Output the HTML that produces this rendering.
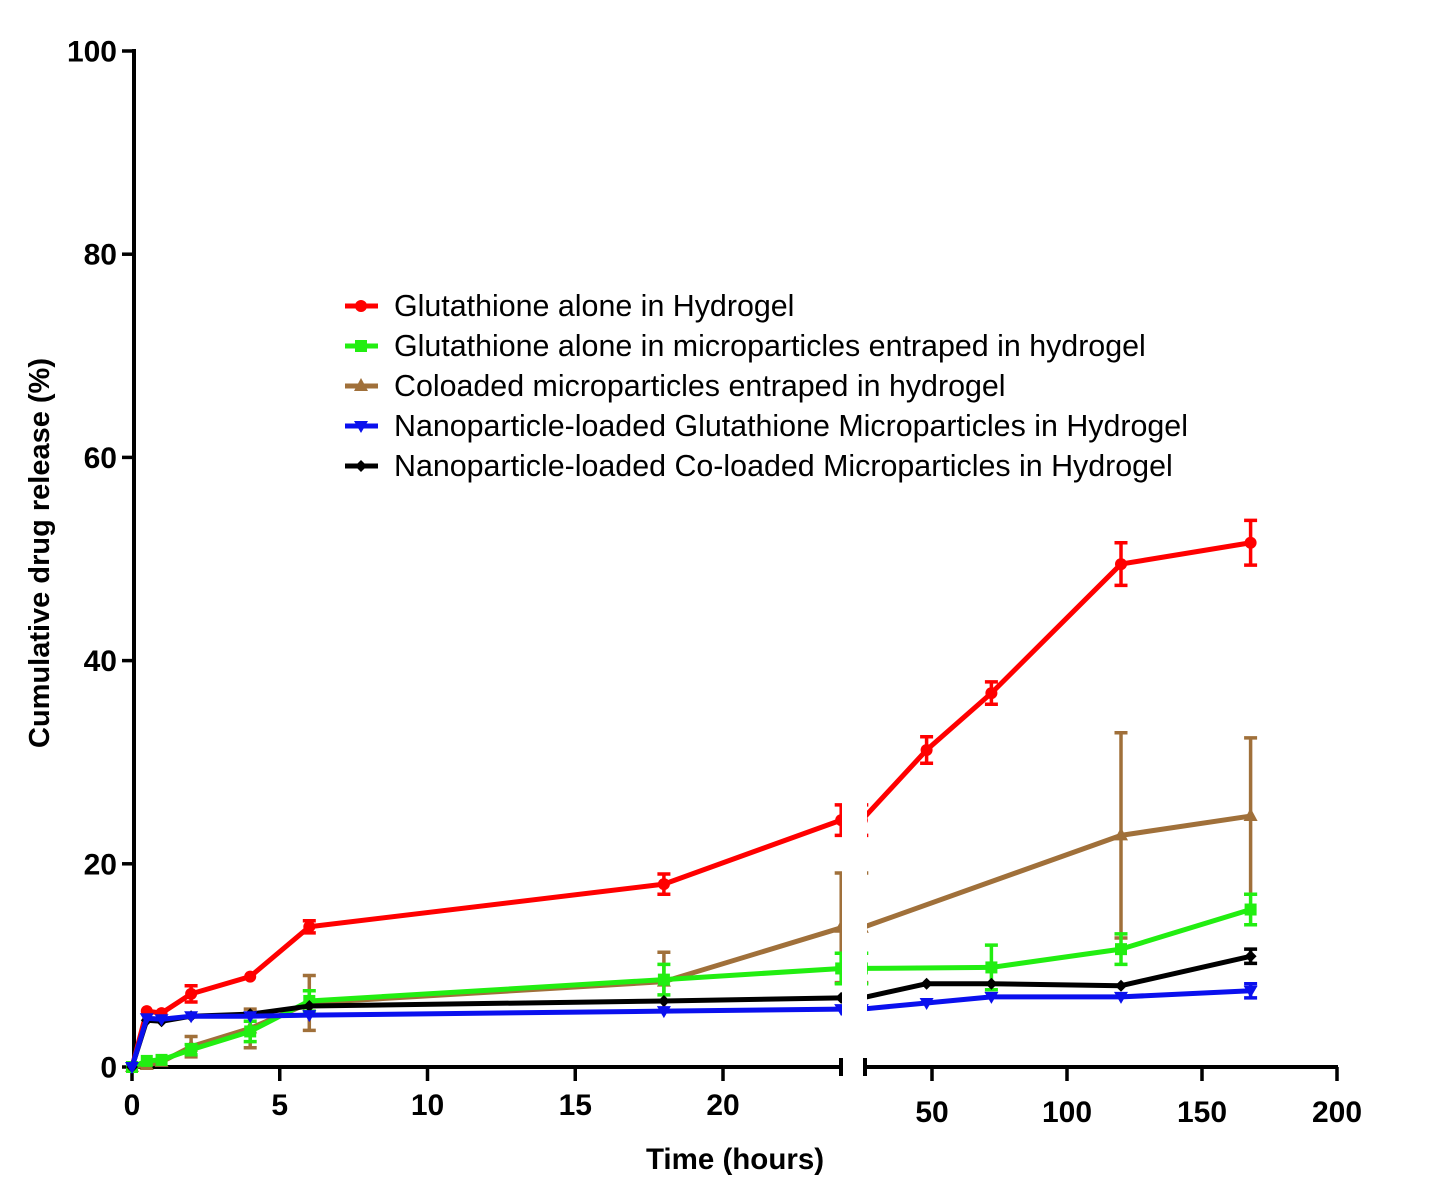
<!DOCTYPE html>
<html><head><meta charset="utf-8"><style>
body{margin:0;background:#fff;}
svg{display:block;font-family:"Liberation Sans",Arial,sans-serif;}
</style></head><body>
<svg id="chart" width="1430" height="1200" viewBox="0 0 1430 1200">
<defs>
<clipPath id="clipL"><rect x="100" y="0" width="742" height="1100"/></clipPath>
<clipPath id="clipR"><rect x="867" y="0" width="560" height="1100"/></clipPath>
</defs>
<g id="axes"></g>
<g id="series"></g>
<g id="legend"></g>
<text x="735" y="1169" font-size="29.5" font-weight="bold" text-anchor="middle">Time (hours)</text>
<text transform="translate(49,553) rotate(-90)" font-size="29" font-weight="bold" text-anchor="middle">Cumulative drug release (%)</text>
</svg>
<script>
const times=[0,0.5,1,2,4,6,18,24,48,72,120,168];
const redVals=[0,5.5,5.3,7.2,8.9,13.8,18.0,24.3,31.2,36.8,49.5,51.6];
const redErr=[0,0.3,0.3,0.8,0.3,0.6,1.0,1.5,1.3,1.1,2.1,2.2];
const greenVals=[0,0.6,0.7,1.7,3.5,6.5,8.6,9.7,null,9.8,11.6,15.5];
const greenErr=[0,0.3,0.3,0.5,1.0,1.0,1.5,1.5,null,2.2,1.5,1.5];
const brownVals=[0,0.2,0.5,2.0,3.8,6.3,8.4,13.7,null,null,22.8,24.7];
const brownErr=[0,0.2,0.2,1.0,1.9,2.7,2.9,5.4,null,null,10.1,7.7];
const blueVals=[0,4.8,4.7,5.0,5.0,5.1,5.5,5.7,6.3,6.9,6.9,7.5];
const blueErr=[0,0.2,0.2,0.2,0.2,0.2,0.3,0.3,0.3,0.3,0.3,0.7];
const blackVals=[0,4.6,4.5,5.0,5.2,6.0,6.5,6.8,8.2,8.2,8.0,10.9];
const blackErr=[0,0.2,0.2,0.2,0.2,0.3,0.3,0.3,0.2,0.2,0.3,0.7];
const yTicks=[0,20,40,60,80,100];
const xTicksL=[0,5,10,15,20];
const xTicksR=[50,100,150,200];
const seriesNames=["Glutathione alone in Hydrogel","Glutathione alone in microparticles entraped in hydrogel","Coloaded microparticles entraped in hydrogel","Nanoparticle-loaded Glutathione Microparticles in Hydrogel","Nanoparticle-loaded Co-loaded Microparticles in Hydrogel"];
const NS="http://www.w3.org/2000/svg";
function yS(v){return 1067-v*10.16;}
function xL(t){return 132+t*29.55;}
function xR(t){return 932+(t-50)*2.7;}
function mk(tag,attrs,parent){const e=document.createElementNS(NS,tag);for(const k in attrs)e.setAttribute(k,attrs[k]);parent.appendChild(e);return e;}
const axes=document.getElementById('axes');
let el;
el=mk('line',{x1:134,y1:49,x2:134,y2:1069,stroke:'#000','stroke-width':4},axes);


el=mk('line',{x1:132,y1:1067,x2:842,y2:1067,stroke:'#000','stroke-width':4},axes);


el=mk('line',{x1:864,y1:1067,x2:1338,y2:1067,stroke:'#000','stroke-width':4},axes);


mk('line',{x1:841,y1:1058,x2:841,y2:1076,stroke:'#000','stroke-width':4},axes);
mk('line',{x1:865,y1:1058,x2:865,y2:1076,stroke:'#000','stroke-width':4},axes);
yTicks.forEach(v=>{
 mk('line',{x1:122,y1:yS(v),x2:134,y2:yS(v),stroke:'#000','stroke-width':3.5},axes);
 el=mk('text',{x:117,y:yS(v)+10.5,'font-size':30,'font-weight':'bold','text-anchor':'end'},axes);
 el.textContent=v;
 
 
});
xTicksL.forEach(v=>{
 mk('line',{x1:xL(v),y1:1067,x2:xL(v),y2:1081,stroke:'#000','stroke-width':3.5},axes);
 el=mk('text',{x:xL(v),y:1115,'font-size':30,'font-weight':'bold','text-anchor':'middle'},axes);
 el.textContent=v;
 
 
});
xTicksR.forEach(v=>{
 mk('line',{x1:xR(v),y1:1067,x2:xR(v),y2:1081,stroke:'#000','stroke-width':3.5},axes);
 el=mk('text',{x:xR(v),y:1122,'font-size':30,'font-weight':'bold','text-anchor':'middle'},axes);
 el.textContent=v;
 
 
});
const series=[
 {vals:redVals,err:redErr,color:'#ff0000',m:'circle',name:'red'},
 {vals:brownVals,err:brownErr,color:'#a0703a',m:'tri',name:'brown'},
 {vals:greenVals,err:greenErr,color:'#22ee11',m:'square',name:'green'},
 {vals:blackVals,err:blackErr,color:'#000000',m:'diamond',name:'black'},
 {vals:blueVals,err:blueErr,color:'#0a10ee',m:'tridown',name:'blue'}
];
const sg=document.getElementById('series');
function marker(g,m,x,y,c){
 if(m==='circle')mk('circle',{cx:x,cy:y,r:6,fill:c},g);
 else if(m==='square')mk('rect',{x:x-6,y:y-6,width:12,height:12,fill:c},g);
 else if(m==='tri')mk('polygon',{points:`${x},${y-8} ${x-7},${y+5} ${x+7},${y+5}`,fill:c},g);
 else if(m==='tridown')mk('polygon',{points:`${x},${y+7} ${x-7},${y-5} ${x+7},${y-5}`,fill:c},g);
 else mk('polygon',{points:`${x},${y-6} ${x+6},${y} ${x},${y+6} ${x-6},${y}`,fill:c},g);
}
series.forEach(s=>{
 const g=mk('g',{},sg);
 
 
 [['clipL',xL],['clipR',xR]].forEach(([clip,xf])=>{
  const sub=mk('g',{'clip-path':`url(#${clip})`},g);
  const pts=[];
  times.forEach((t,i)=>{if(s.vals[i]!==null)pts.push(xf(t)+','+yS(s.vals[i]));});
  mk('polyline',{points:pts.join(' '),fill:'none',stroke:s.color,'stroke-width':5,'stroke-linejoin':'round'},sub);
  times.forEach((t,i)=>{
   const v=s.vals[i];if(v===null)return;
   const x=xf(t),e=s.err[i]||0;
   if(e>0.4){
    const eb=mk('path',{d:`M${x},${yS(v+e)}V${yS(v-e)}M${x-6.5},${yS(v+e)}h13M${x-6.5},${yS(v-e)}h13`,stroke:s.color,'stroke-width':3.5,fill:'none'},sub);
    
    
   }
   marker(sub,s.m,x,yS(v),s.color);
  });
 });
});
const lg=document.getElementById('legend');
const legOrder=[0,2,1,4,3];
legOrder.forEach((si,k)=>{
 const s=series[si];const y=306+k*40;
 const g=mk('g',{},lg);
 
 
 mk('line',{x1:345,y1:y,x2:378,y2:y,stroke:s.color,'stroke-width':5},g);
 marker(g,s.m,361,y,s.color);
 const t=mk('text',{x:394,y:y+10,'font-size':30.4},g);
 t.textContent=seriesNames[k];
});
</script>
</body></html>
